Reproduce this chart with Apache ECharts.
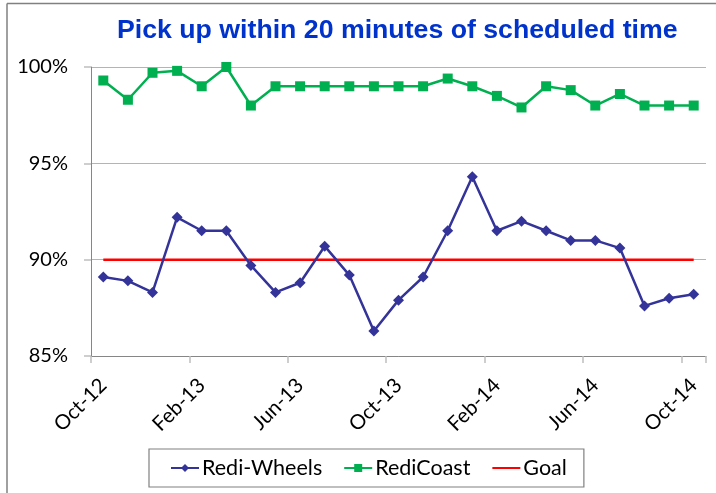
<!DOCTYPE html>
<html>
<head>
<meta charset="utf-8">
<script src="https://cdn.jsdelivr.net/npm/echarts@6/dist/echarts.min.js"></script>
<style>
html,body{margin:0;padding:0;background:#fff;}
#c{width:716px;height:493px;}
</style>
</head>
<body>
<div id="c"></div>
<script>
var categories = ['Oct-12','Nov-12','Dec-12','Jan-13','Feb-13','Mar-13','Apr-13','May-13','Jun-13','Jul-13','Aug-13','Sep-13','Oct-13','Nov-13','Dec-13','Jan-14','Feb-14','Mar-14','Apr-14','May-14','Jun-14','Jul-14','Aug-14','Sep-14','Oct-14'];
var rediWheels = [89.1, 88.9, 88.3, 92.2, 91.5, 91.5, 89.7, 88.3, 88.8, 90.7, 89.2, 86.3, 87.9, 89.1, 91.5, 94.3, 91.5, 92.0, 91.5, 91.0, 91.0, 90.6, 87.6, 88.0, 88.2];
var rediCoast = [99.3, 98.3, 99.7, 99.8, 99.0, 100.0, 98.0, 99.0, 99.0, 99.0, 99.0, 99.0, 99.0, 99.0, 99.4, 99.0, 98.5, 97.9, 99.0, 98.8, 98.0, 98.6, 98.0, 98.0, 98.0];
var goal = [90, 90, 90, 90, 90, 90, 90, 90, 90, 90, 90, 90, 90, 90, 90, 90, 90, 90, 90, 90, 90, 90, 90, 90, 90];
var yTicks = [85, 90, 95, 100];

var chart = echarts.init(document.getElementById('c'), null, {renderer: 'canvas'});
chart.setOption({
  animation: false,
  backgroundColor: '#ffffff',
  title: {
    text: 'Pick up within 20 minutes of scheduled time',
    left: 117,
    top: 17,
    padding: 0,
    textStyle: {color: '#0033CC', fontSize: 26.7, fontWeight: 'bold', fontFamily: 'Liberation Sans'}
  },
  grid: {left: 91, right: 10, top: 67, bottom: 137, containLabel: false},
  legend: {
    left: 149, top: 449,
    padding: [8, 17, 8, 21],
    borderColor: '#808080', borderWidth: 1.2,
    itemWidth: 28, itemHeight: 10, itemGap: 21,
    textStyle: {fontFamily: 'Lato', fontSize: 21.5, color: '#000', padding: [0, 0, 0, -2]},
    data: [
      {name: 'Redi-Wheels'},
      {name: 'RediCoast'},
      {name: 'Goal', itemStyle: {opacity: 0}}
    ]
  },
  xAxis: {
    type: 'category',
    data: categories,
    boundaryGap: true,
    axisLine: {lineStyle: {color: '#868686', width: 1}},
    axisTick: {show: true, interval: 3, length: 7, lineStyle: {color: '#BFBFBF', width: 1.5}},
    axisLabel: {interval: 3, rotate: 45, margin: 26, fontFamily: 'Lato', fontSize: 20.5, color: '#000'},
    splitLine: {show: false}
  },
  yAxis: {
    type: 'value',
    min: yTicks[0], max: yTicks[yTicks.length - 1], interval: 5,
    axisLine: {show: true, lineStyle: {color: '#868686', width: 1}},
    axisTick: {show: true, length: 7, lineStyle: {color: '#BFBFBF', width: 1.5}},
    axisLabel: {margin: 23, fontFamily: 'Lato', fontSize: 20, color: '#000', formatter: function(v){return v + '%';}},
    splitLine: {show: true, lineStyle: {color: '#B4B4B4', width: 1.2}}
  },
  series: [
    {
      name: 'Redi-Wheels', type: 'line', data: rediWheels,
      symbol: 'diamond', symbolSize: 11,
      lineStyle: {color: '#333399', width: 2.5},
      itemStyle: {color: '#333399'}, z: 3
    },
    {
      name: 'RediCoast', type: 'line', data: rediCoast,
      symbol: 'rect', symbolSize: 10,
      lineStyle: {color: '#00B050', width: 2.5},
      itemStyle: {color: '#00B050'}, z: 3
    },
    {
      name: 'Goal', type: 'line', data: goal,
      symbol: 'none', showSymbol: false,
      lineStyle: {color: '#FF0000', width: 2.5},
      itemStyle: {color: '#FF0000'}, z: 2
    }
  ],
  graphic: [
    {type: 'line', shape: {x1: 7, y1: 3.5, x2: 716, y2: 3.5}, style: {stroke: '#808080', lineWidth: 1.5}},
    {type: 'line', shape: {x1: 7, y1: 3.5, x2: 7, y2: 493}, style: {stroke: '#808080', lineWidth: 1.5}}
  ]
});
</script>
</body>
</html>
